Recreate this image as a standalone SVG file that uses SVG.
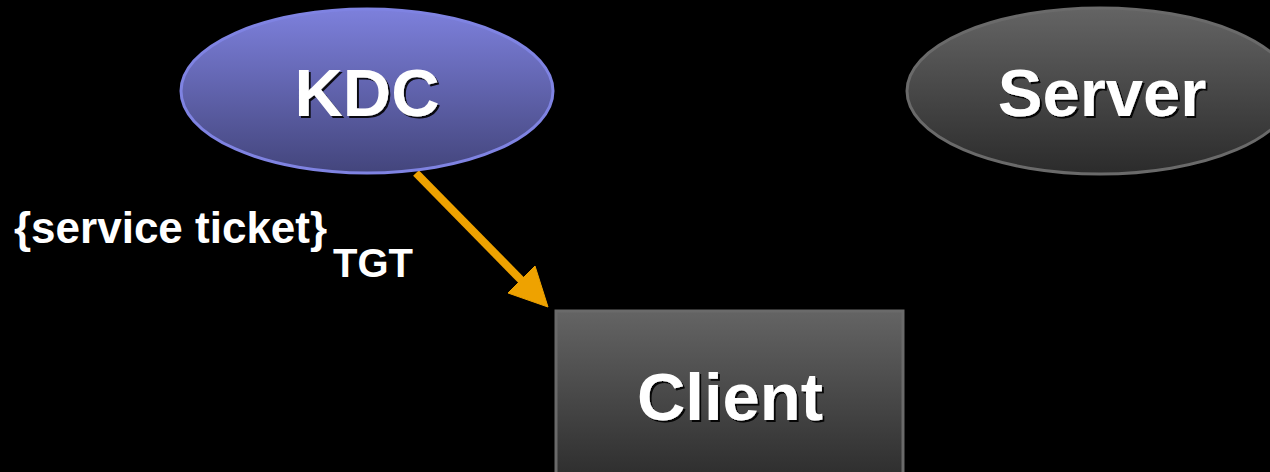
<svg xmlns="http://www.w3.org/2000/svg" width="1270" height="472" viewBox="0 0 1270 472">
<defs>
<linearGradient id="gBlue" x1="0" y1="0" x2="0" y2="1">
<stop offset="0" stop-color="#7d80dc"/>
<stop offset="1" stop-color="#43457c"/>
</linearGradient>
<linearGradient id="gGray" x1="0" y1="0" x2="0" y2="1">
<stop offset="0" stop-color="#646464"/>
<stop offset="1" stop-color="#2b2b2b"/>
</linearGradient>
<filter id="sh" x="-10%" y="-10%" width="130%" height="130%">
<feDropShadow dx="2" dy="2" stdDeviation="0.6" flood-color="#000" flood-opacity="0.9"/>
</filter>
</defs>
<style>
.node text{font-family:"Liberation Sans",Arial,sans-serif;font-weight:bold;font-size:67px;fill:#fff;text-anchor:middle;filter:url(#sh)}
.lbl{font-family:"Liberation Sans",Arial,sans-serif;font-weight:bold;fill:#fff}
.conn{stroke:#eea200;fill:#eea200}
</style>
<rect width="1270" height="472" fill="#000"/>
<g id="connectors">
<line class="conn" x1="416" y1="173" x2="524" y2="283" stroke-width="8"/>
<polygon class="conn" points="548,307 535,266 508,293" stroke="none"/>
<text class="lbl" x="14" y="243" font-size="44">{service ticket}</text>
<text class="lbl" x="333" y="277" font-size="40">TGT</text>
</g>
<g id="kdc" class="node">
<ellipse cx="367" cy="91" rx="186" ry="82" fill="url(#gBlue)" stroke="#7f83e2" stroke-width="3"/>
<text x="367" y="116">KDC</text>
</g>
<g id="server" class="node">
<ellipse cx="1100" cy="91" rx="193" ry="83" fill="url(#gGray)" stroke="#6a6a6a" stroke-width="3"/>
<text x="1102" y="116">Server</text>
</g>
<g id="client" class="node">
<rect x="556" y="311" width="347" height="175" fill="url(#gGray)" stroke="#6a6a6a" stroke-width="3"/>
<text x="730" y="420">Client</text>
</g>
</svg>
